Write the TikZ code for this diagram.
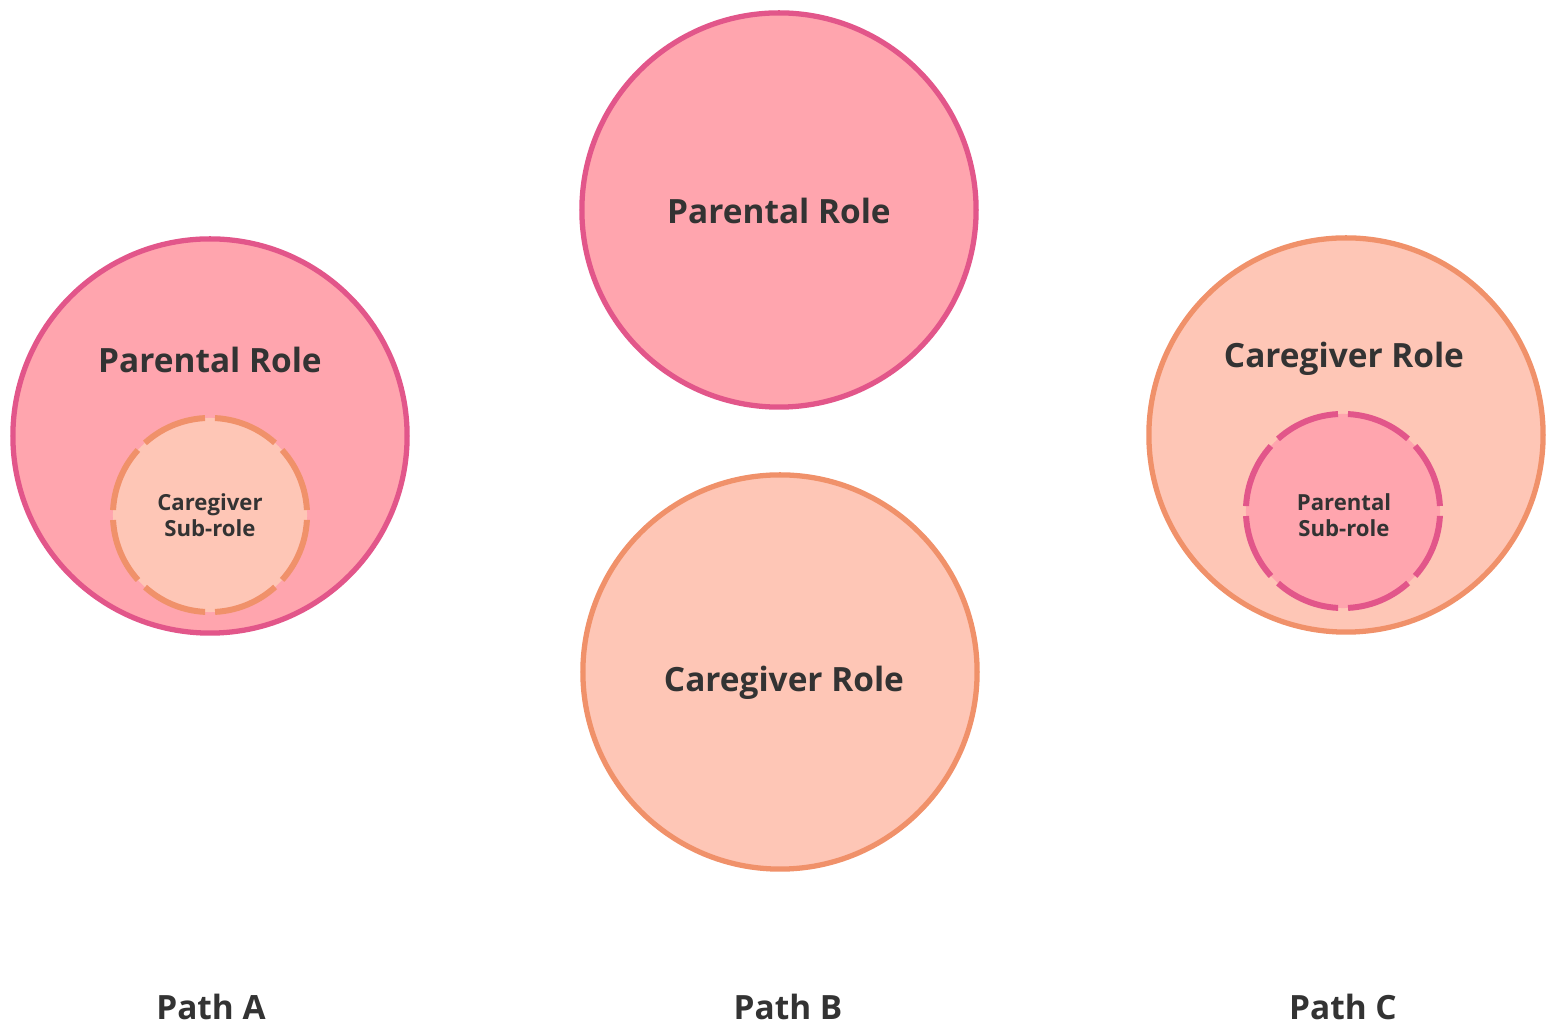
\documentclass[tikz,border=0pt]{standalone}
\usepackage{fontspec}
\setmainfont{Open Sans}
\definecolor{pinkfill}{HTML}{FFA5AE}
\definecolor{pinkline}{HTML}{E2568A}
\definecolor{peachfill}{HTML}{FEC6B6}
\definecolor{peachline}{HTML}{F0916A}
\definecolor{txt}{HTML}{333333}
\begin{document}
\begin{tikzpicture}[x=0.01cm,y=-0.01cm,
  big/.style={circle,minimum size=3.94cm,inner sep=0pt,line width=1.5pt},
  small/.style={circle,minimum size=1.94cm,inner sep=0pt,line width=1.7pt,
     dash pattern=on 0.662cm off 0.1cm,dash phase=0.712cm},
  pk/.style={fill=pinkfill,draw=pinkline},
  pc/.style={fill=peachfill,draw=peachline},
  lbl/.style={font=\bfseries\fontsize{9.5}{11}\selectfont,text=txt},
  slbl/.style={font=\bfseries\fontsize{6.3}{7.5}\selectfont,text=txt,align=center}]
\useasboundingbox (0,0) rectangle (1559,1034);
\node[big,pk] (a) at (210,436) {};
\node[small,pc] (as) at (210,515) {};
\node[lbl] (at) at (210,360) {Parental Role};
\node[slbl] (ast) at (210,515) {Caregiver\\Sub-role};
\node[big,pk] (b1) at (779,210) {};
\node[lbl] (b1t) at (779,211) {Parental Role};
\node[big,pc] (b2) at (780,672) {};
\node[lbl] (b2t) at (784,683) {Caregiver Role};
\node[big,pc] (c) at (1346,435) {};
\node[small,pk] (cs) at (1343,511) {};
\node[lbl] (ct) at (1344,359) {Caregiver Role};
\node[slbl] (cst) at (1344,515) {Parental\\Sub-role};
\node[lbl] (pa) at (211,1007) {Path A};
\node[lbl] (pb) at (788,1007) {Path B};
\node[lbl] (pc) at (1343,1007) {Path C};
\end{tikzpicture}
\end{document}
